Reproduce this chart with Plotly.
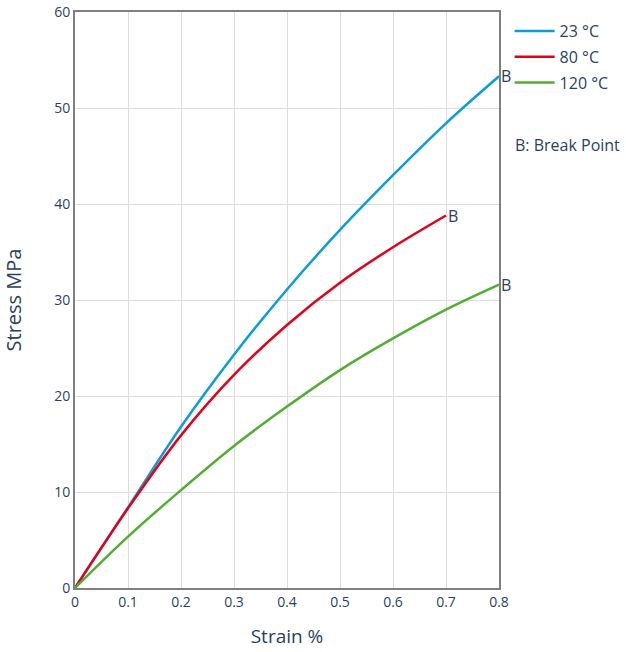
import plotly.graph_objects as go

strain = [0.0, 0.1, 0.2, 0.3, 0.4, 0.5, 0.6, 0.7, 0.8]
stress_23 = [0.0, 8.4, 16.8, 24.3, 31.1, 37.3, 43.0, 48.4, 53.3]
strain_80 = [0.0, 0.1, 0.2, 0.3, 0.4, 0.5, 0.6, 0.7]
stress_80 = [0.0, 8.3, 15.9, 22.2, 27.4, 31.8, 35.5, 38.8]
stress_120 = [0.0, 5.35, 10.2, 14.8, 18.9, 22.7, 26.0, 29.0, 31.6]

names = ["23 °C", "80 °C", "120 °C"]
colors = ["#0b9ddb", "#e3001b", "#52ae32"]
xs = [strain, strain_80, strain]
ys = [stress_23, stress_80, stress_120]

font_color = "#2a3f5f"
fig = go.Figure()
for i, (x, y, n, c) in enumerate(zip(xs, ys, names, colors)):
    fig.add_trace(go.Scatter(x=x, y=y, name=n, mode="lines", legendgroup=f"g{i}",
                             line=dict(color=c, width=2.5, shape="spline", smoothing=1.0)))
    fig.add_annotation(x=x[-1], y=y[-1], text="B", showarrow=False,
                       xanchor="left", yanchor="middle", xshift=0,
                       font=dict(size=16, color=font_color))

fig.add_annotation(xref="paper", yref="paper", x=1.033, y=0.769, text="B: Break Point",
                   showarrow=False, xanchor="left", yanchor="middle",
                   font=dict(size=16, color=font_color))

axis_common = dict(showline=True, linecolor="#7f7f7f", linewidth=2, mirror=True,
                   showgrid=True, gridcolor="#dddddd", gridwidth=1, zeroline=False,
                   ticks="", automargin=False, ticklabeloverflow="allow",
                   tickfont=dict(size=14, color=font_color))
fig.update_layout(
    width=626, height=652,
    margin=dict(l=75, r=121, t=12, b=64),
    plot_bgcolor="white", paper_bgcolor="white",
    font=dict(family="Open Sans", color=font_color, size=14),
    xaxis=dict(range=[0, 0.8], dtick=0.1,
               title=dict(text="Strain %", font=dict(size=19), standoff=20), **axis_common),
    yaxis=dict(range=[0, 60], dtick=10,
               title=dict(text="Stress MPa", font=dict(size=20), standoff=29), **axis_common),
    legend=dict(x=1.025, y=0.9965, xanchor="left", yanchor="top", font=dict(size=16),
                bgcolor="rgba(0,0,0,0)", itemwidth=40, traceorder="grouped", tracegroupgap=2),
)
fig.write_html("out.html", config={"displayModeBar": False},
               post_script="document.body.style.margin='0';")
